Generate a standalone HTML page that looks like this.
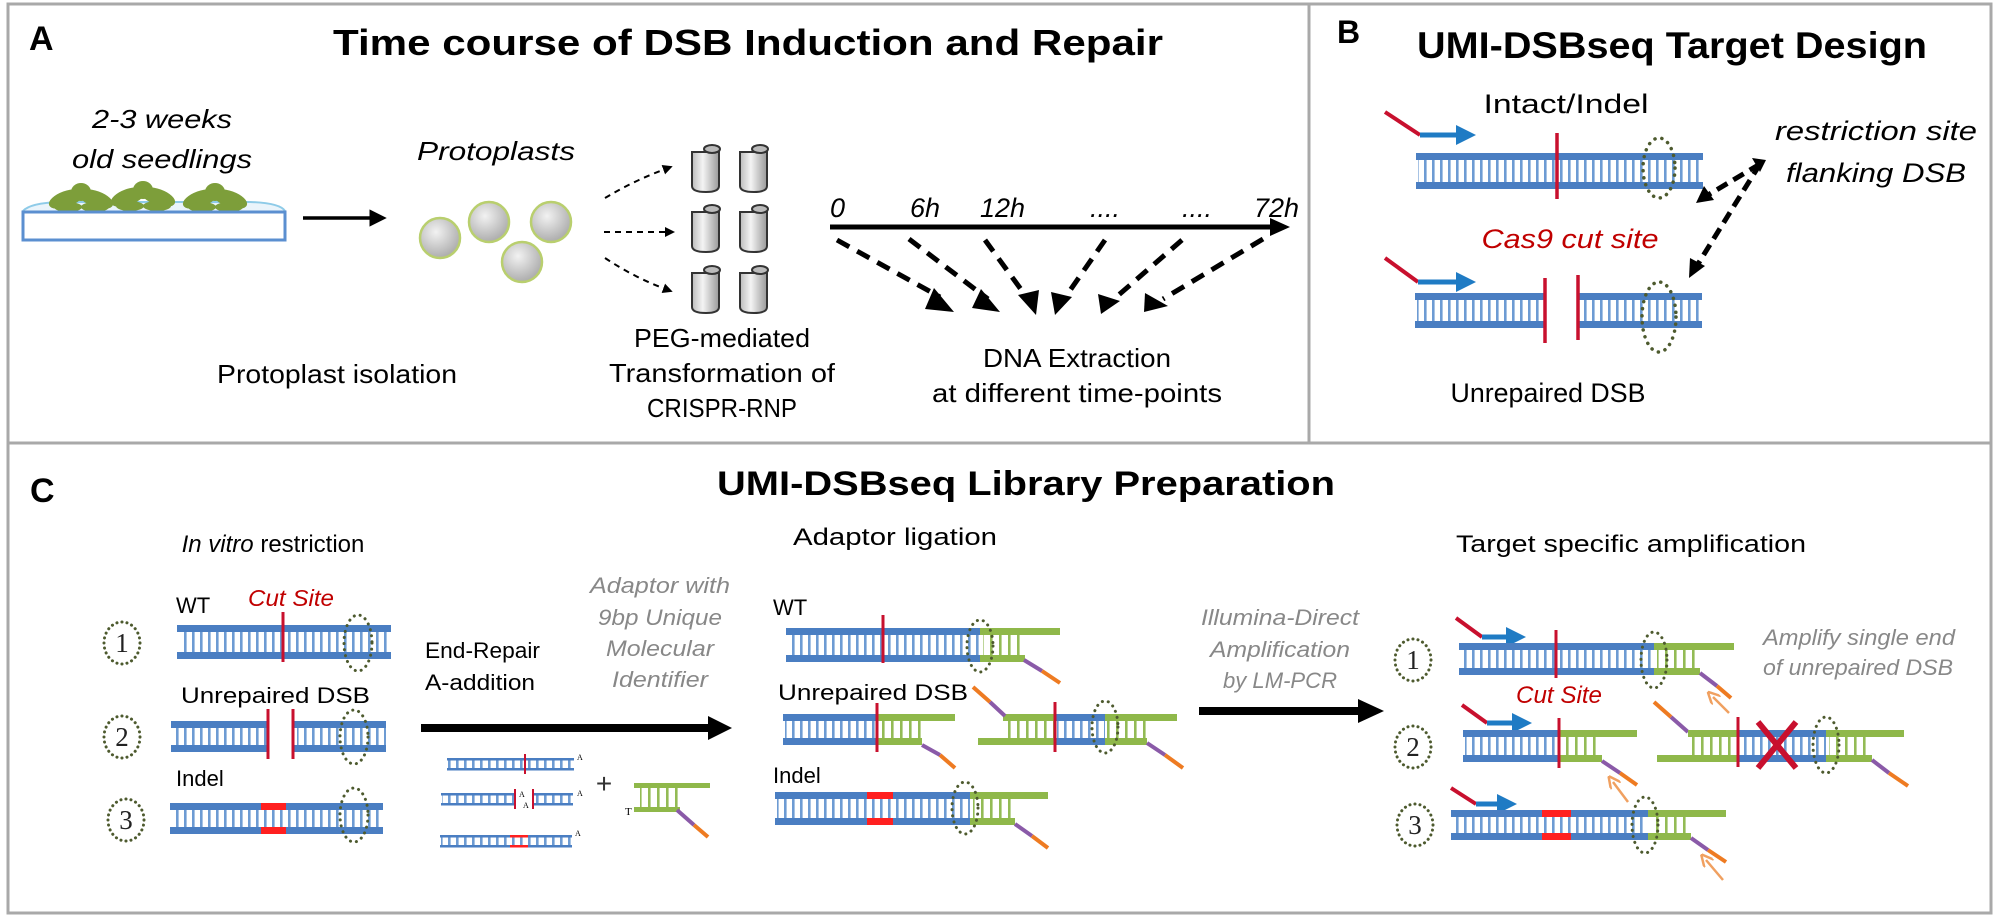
<!DOCTYPE html>
<html><head><meta charset="utf-8"><style>
html,body{margin:0;padding:0;background:#fff;}
svg{display:block;}
text{font-family:"Liberation Sans",sans-serif;}
text.serif,.serif text{font-family:"Liberation Serif",serif;}
</style></head><body>
<svg width="2000" height="919" viewBox="0 0 2000 919" xmlns="http://www.w3.org/2000/svg">
<defs>
<pattern id="rb" patternUnits="userSpaceOnUse" width="8" height="10"><rect width="8" height="10" fill="#fff"/><rect x="0" width="2.6" height="10" fill="#6d9bd3"/></pattern>
<pattern id="rg" patternUnits="userSpaceOnUse" width="9" height="10"><rect width="9" height="10" fill="#fff"/><rect x="0" width="2.6" height="10" fill="#93bb55"/></pattern>
<marker id="ahs" markerWidth="5" markerHeight="5" refX="2.5" refY="2.5" orient="auto" markerUnits="strokeWidth"><path d="M0,0 L5,2.5 L0,5 z" fill="#000"/></marker>
<marker id="ahb" markerWidth="4" markerHeight="4" refX="2" refY="2" orient="auto" markerUnits="strokeWidth"><path d="M0,0 L4,2 L0,4 z" fill="#1f7bc4"/></marker>
<marker id="aho" markerWidth="5" markerHeight="5" refX="2" refY="2.5" orient="auto" markerUnits="strokeWidth"><path d="M0,0 L5,2.5 L0,5" fill="none" stroke="#f0a060" stroke-width="1"/></marker>
<radialGradient id="pg" cx="40%" cy="35%" r="70%"><stop offset="0" stop-color="#f2f2f2"/><stop offset="1" stop-color="#a8a8a8"/></radialGradient>
<linearGradient id="tg" x1="0" x2="1"><stop offset="0" stop-color="#bbb"/><stop offset="0.4" stop-color="#f4f4f4"/><stop offset="1" stop-color="#999"/></linearGradient>
</defs>

<rect x="8" y="4" width="1983" height="909" fill="none" stroke="#a9a9a9" stroke-width="3"/>
<line x1="8" y1="443" x2="1991" y2="443" stroke="#a9a9a9" stroke-width="3"/>
<line x1="1309" y1="4" x2="1309" y2="443" stroke="#a9a9a9" stroke-width="3"/>

<!-- ===== Panel A ===== -->
<text x="29" y="50" font-size="34" font-weight="bold">A</text>
<text x="333" y="55" font-size="36" font-weight="bold" textLength="830" lengthAdjust="spacingAndGlyphs">Time course of DSB Induction and Repair</text>

<text x="162" y="128" font-size="26" font-style="italic" text-anchor="middle" textLength="140" lengthAdjust="spacingAndGlyphs">2-3 weeks</text>
<text x="162" y="168" font-size="26" font-style="italic" text-anchor="middle" textLength="180" lengthAdjust="spacingAndGlyphs">old seedlings</text>
<path d="M23,211 Q30,203 60,202 L250,202 Q280,203 285,211" fill="#eaf4fb" stroke="#8ecbe8" stroke-width="2"/>
<g fill="#7d9e3a">
<ellipse cx="66" cy="199" rx="18" ry="8" transform="rotate(-20 66 199)"/><ellipse cx="96" cy="199" rx="18" ry="8" transform="rotate(20 96 199)"/><ellipse cx="81" cy="192" rx="10" ry="9"/><ellipse cx="68" cy="207" rx="14" ry="5"/><ellipse cx="95" cy="207" rx="14" ry="5"/>
<ellipse cx="128" cy="197" rx="18" ry="8" transform="rotate(-20 128 197)"/><ellipse cx="158" cy="197" rx="18" ry="8" transform="rotate(20 158 197)"/><ellipse cx="143" cy="190" rx="10" ry="9"/><ellipse cx="130" cy="206" rx="14" ry="5"/><ellipse cx="157" cy="206" rx="14" ry="5"/>
<ellipse cx="200" cy="199" rx="18" ry="8" transform="rotate(-20 200 199)"/><ellipse cx="230" cy="199" rx="18" ry="8" transform="rotate(20 230 199)"/><ellipse cx="215" cy="192" rx="10" ry="9"/><ellipse cx="202" cy="207" rx="14" ry="5"/><ellipse cx="229" cy="207" rx="14" ry="5"/>
</g>
<rect x="23" y="212" width="262" height="28" fill="#fff" stroke="#5b8fd0" stroke-width="3"/>
<line x1="303" y1="218" x2="378" y2="218" stroke="#000" stroke-width="3.5" marker-end="url(#ahs)"/>

<text x="496" y="160" font-size="26" font-style="italic" text-anchor="middle" textLength="158" lengthAdjust="spacingAndGlyphs">Protoplasts</text>
<g fill="url(#pg)" stroke="#b9cf6e" stroke-width="2.5">
<circle cx="440" cy="238" r="20"/><circle cx="489" cy="222" r="20"/><circle cx="551" cy="222" r="20"/><circle cx="522" cy="262" r="20"/>
</g>
<text x="337" y="383" font-size="26" text-anchor="middle" textLength="240" lengthAdjust="spacingAndGlyphs">Protoplast isolation</text>

<g stroke="#000" stroke-width="2" stroke-dasharray="6 5" fill="none">
<path d="M605,198 Q635,180 668,168" marker-end="url(#ahs)"/>
<path d="M604,232 L670,232" marker-end="url(#ahs)"/>
<path d="M605,258 Q635,278 668,290" marker-end="url(#ahs)"/>
</g>
<g stroke="#333" stroke-width="2">
<g id="tube"><path d="M692,152 L692,186 Q692,192 706,192 Q719,192 719,186 L719,152 Z" fill="url(#tg)"/><ellipse cx="712" cy="149" rx="8" ry="4" fill="#bbb"/></g>
<use href="#tube" x="48" y="0"/>
<use href="#tube" x="0" y="60"/><use href="#tube" x="48" y="60"/>
<use href="#tube" x="0" y="121"/><use href="#tube" x="48" y="121"/>
</g>
<text x="722" y="347" font-size="26" text-anchor="middle" textLength="176" lengthAdjust="spacingAndGlyphs">PEG-mediated</text>
<text x="722" y="382" font-size="26" text-anchor="middle" textLength="226" lengthAdjust="spacingAndGlyphs">Transformation of</text>
<text x="722" y="417" font-size="26" text-anchor="middle" textLength="150" lengthAdjust="spacingAndGlyphs">CRISPR-RNP</text>

<line x1="830" y1="227" x2="1275" y2="227" stroke="#000" stroke-width="5"/>
<path d="M1270,218 L1290,227 L1270,236 Z" fill="#000"/>
<g font-size="27" font-style="italic">
<text x="830" y="217">0</text><text x="910" y="217">6h</text><text x="980" y="217">12h</text>
<text x="1090" y="217">....</text><text x="1182" y="217">....</text><text x="1254" y="217">72h</text>
</g>
<g stroke="#000" stroke-width="5" stroke-dasharray="14 9" fill="none">
<line x1="837" y1="240" x2="940" y2="297"/>
<line x1="909" y1="239" x2="988" y2="299"/>
<line x1="985" y1="240" x2="1028" y2="299"/>
<line x1="1105" y1="240" x2="1064" y2="299"/>
<line x1="1182" y1="240" x2="1114" y2="299"/>
<line x1="1263" y1="239" x2="1163" y2="299"/>
</g>
<g fill="#000">
<path d="M934,288 L954,312 L925,309 Z"/><path d="M981,289 L1000,312 L972,308 Z"/>
<path d="M1018,295 L1036,315 L1039,290 Z"/><path d="M1051,292 L1055,315 L1072,297 Z"/>
<path d="M1098,294 L1101,314 L1120,301 Z"/><path d="M1145,293 L1144,312 L1168,306 Z"/>
</g>
<text x="1077" y="367" font-size="26" text-anchor="middle" textLength="188" lengthAdjust="spacingAndGlyphs">DNA Extraction</text>
<text x="1077" y="402" font-size="26" text-anchor="middle" textLength="290" lengthAdjust="spacingAndGlyphs">at different time-points</text>

<!-- ===== Panel B ===== -->
<text x="1337" y="43" font-size="32" font-weight="bold">B</text>
<text x="1417" y="58" font-size="37" font-weight="bold" textLength="510" lengthAdjust="spacingAndGlyphs">UMI-DSBseq Target Design</text>
<text x="1566" y="113" font-size="27" text-anchor="middle" textLength="165" lengthAdjust="spacingAndGlyphs">Intact/Indel</text>
<rect x="1416" y="153" width="287" height="7" fill="#4a7ec2"/><rect x="1416" y="182" width="287" height="7" fill="#4a7ec2"/><rect x="1418" y="160" width="285" height="22" fill="url(#rb)"/>
<line x1="1557" y1="133" x2="1557" y2="199" stroke="#c8102e" stroke-width="3.5"/>
<line x1="1385" y1="112" x2="1420" y2="135" stroke="#c8102e" stroke-width="4"/>
<line x1="1420" y1="135" x2="1466" y2="135" stroke="#1f7bc4" stroke-width="5" marker-end="url(#ahb)"/>
<ellipse cx="1659" cy="168" rx="16" ry="30" fill="none" stroke="#4d5a2e" stroke-width="3.5" stroke-dasharray="0.1 7" stroke-linecap="round"/>
<text x="1570" y="248" font-size="27" font-style="italic" fill="#c00000" text-anchor="middle" textLength="177" lengthAdjust="spacingAndGlyphs">Cas9 cut site</text>
<rect x="1415" y="293" width="130" height="7" fill="#4a7ec2"/><rect x="1415" y="321" width="130" height="7" fill="#4a7ec2"/><rect x="1417" y="300" width="128" height="21" fill="url(#rb)"/>
<rect x="1578" y="293" width="124" height="7" fill="#4a7ec2"/><rect x="1578" y="321" width="124" height="7" fill="#4a7ec2"/><rect x="1582" y="300" width="120" height="21" fill="url(#rb)"/>
<line x1="1545" y1="278" x2="1545" y2="343" stroke="#c8102e" stroke-width="3.5"/>
<line x1="1578" y1="275" x2="1578" y2="340" stroke="#c8102e" stroke-width="3.5"/>
<line x1="1385" y1="258" x2="1418" y2="282" stroke="#c8102e" stroke-width="4"/>
<line x1="1418" y1="282" x2="1466" y2="282" stroke="#1f7bc4" stroke-width="5" marker-end="url(#ahb)"/>
<ellipse cx="1659" cy="317" rx="17" ry="35" fill="none" stroke="#4d5a2e" stroke-width="3.5" stroke-dasharray="0.1 7" stroke-linecap="round"/>
<text x="1876" y="140" font-size="27" font-style="italic" text-anchor="middle" textLength="202" lengthAdjust="spacingAndGlyphs">restriction site</text>
<text x="1876" y="182" font-size="27" font-style="italic" text-anchor="middle" textLength="180" lengthAdjust="spacingAndGlyphs">flanking DSB</text>
<g stroke="#000" stroke-width="5" stroke-dasharray="12 7" fill="none">
<line x1="1760" y1="164" x2="1708" y2="195"/>
<line x1="1760" y1="164" x2="1698" y2="264"/>
</g>
<path d="M1696,203 L1704,186 L1714,200 Z" fill="#000"/>
<path d="M1689,278 L1690,258 L1705,266 Z" fill="#000"/>
<path d="M1752,158 L1766,160 L1760,172 Z" fill="#000"/>
<text x="1548" y="402" font-size="27" text-anchor="middle" textLength="195" lengthAdjust="spacingAndGlyphs">Unrepaired DSB</text>

<!-- ===== Panel C ===== -->
<text x="30" y="502" font-size="34" font-weight="bold">C</text>
<text x="717" y="495" font-size="34" font-weight="bold" textLength="618" lengthAdjust="spacingAndGlyphs">UMI-DSBseq Library Preparation</text>
<text x="273" y="552" font-size="24" text-anchor="middle"><tspan font-style="italic">In vitro</tspan> restriction</text>
<text x="895" y="545" font-size="24" text-anchor="middle" textLength="204" lengthAdjust="spacingAndGlyphs">Adaptor ligation</text>
<text x="1631" y="552" font-size="24" text-anchor="middle" textLength="350" lengthAdjust="spacingAndGlyphs">Target specific amplification</text>

<g fill="none" stroke="#4d5a2e" stroke-width="3" stroke-dasharray="0.1 5" stroke-linecap="round">
<ellipse cx="122" cy="643" rx="18" ry="21"/><ellipse cx="122" cy="737" rx="18" ry="21"/><ellipse cx="126" cy="820" rx="18" ry="21"/>
<ellipse cx="1413" cy="660" rx="18" ry="21"/><ellipse cx="1413" cy="747" rx="18" ry="21"/><ellipse cx="1415" cy="825" rx="18" ry="21"/>
</g>
<g class="serif" font-size="27" text-anchor="middle" fill="#222">
<text x="122" y="652">1</text><text x="122" y="746">2</text><text x="126" y="829">3</text>
<text x="1413" y="669">1</text><text x="1413" y="756">2</text><text x="1415" y="834">3</text>
</g>

<text x="176" y="613" font-size="22">WT</text>
<text x="291" y="606" font-size="23" font-style="italic" fill="#c00000" text-anchor="middle" textLength="86" lengthAdjust="spacingAndGlyphs">Cut Site</text>
<rect x="177" y="625" width="214" height="7" fill="#4a7ec2"/><rect x="177" y="652" width="214" height="7" fill="#4a7ec2"/><rect x="179" y="632" width="212" height="20" fill="url(#rb)"/>
<line x1="283" y1="612" x2="283" y2="662" stroke="#c8102e" stroke-width="3"/>
<ellipse cx="358" cy="643" rx="14" ry="28" fill="none" stroke="#4d5a2e" stroke-width="3" stroke-dasharray="0.1 6" stroke-linecap="round"/>
<text x="181" y="703" font-size="22" textLength="189" lengthAdjust="spacingAndGlyphs">Unrepaired DSB</text>
<rect x="171" y="721" width="97" height="7" fill="#4a7ec2"/><rect x="171" y="745" width="97" height="7" fill="#4a7ec2"/><rect x="173" y="728" width="95" height="17" fill="url(#rb)"/>
<rect x="293" y="721" width="93" height="7" fill="#4a7ec2"/><rect x="293" y="745" width="93" height="7" fill="#4a7ec2"/><rect x="297" y="728" width="89" height="17" fill="url(#rb)"/>
<line x1="268" y1="709" x2="268" y2="759" stroke="#c8102e" stroke-width="3"/><line x1="293" y1="709" x2="293" y2="759" stroke="#c8102e" stroke-width="3"/>
<ellipse cx="354" cy="737" rx="14" ry="27" fill="none" stroke="#4d5a2e" stroke-width="3" stroke-dasharray="0.1 6" stroke-linecap="round"/>
<text x="176" y="786" font-size="22">Indel</text>
<rect x="170" y="803" width="213" height="7" fill="#4a7ec2"/><rect x="170" y="827" width="213" height="7" fill="#4a7ec2"/><rect x="172" y="810" width="211" height="17" fill="url(#rb)"/>
<rect x="261" y="803" width="25" height="7" fill="#ff2020"/><rect x="261" y="827" width="25" height="7" fill="#ff2020"/>
<ellipse cx="354" cy="815" rx="14" ry="27" fill="none" stroke="#4d5a2e" stroke-width="3" stroke-dasharray="0.1 6" stroke-linecap="round"/>

<text x="425" y="658" font-size="22" textLength="115" lengthAdjust="spacingAndGlyphs">End-Repair</text>
<text x="425" y="690" font-size="22" textLength="110" lengthAdjust="spacingAndGlyphs">A-addition</text>
<g font-size="22" font-style="italic" fill="#888" text-anchor="middle">
<text x="660" y="593" textLength="140" lengthAdjust="spacingAndGlyphs">Adaptor with</text>
<text x="660" y="625" textLength="124" lengthAdjust="spacingAndGlyphs">9bp Unique</text>
<text x="660" y="656" textLength="108" lengthAdjust="spacingAndGlyphs">Molecular</text>
<text x="660" y="687" textLength="96" lengthAdjust="spacingAndGlyphs">Identifier</text>
</g>
<line x1="421" y1="728" x2="712" y2="728" stroke="#000" stroke-width="8"/>
<path d="M708,716 L732,728 L708,740 Z" fill="#000"/>
<rect x="447" y="758" width="127" height="2.5" fill="#4a7ec2"/><rect x="447" y="768" width="127" height="2.5" fill="#4a7ec2"/><rect x="448" y="760.5" width="126" height="7.5" fill="url(#rb)"/>
<line x1="525" y1="754" x2="525" y2="774" stroke="#c8102e" stroke-width="2"/>
<rect x="441" y="793" width="132" height="2.5" fill="#4a7ec2"/><rect x="441" y="803" width="132" height="2.5" fill="#4a7ec2"/><rect x="442" y="795.5" width="131" height="7.5" fill="url(#rb)"/>
<rect x="516" y="790" width="16" height="20" fill="#fff"/>
<line x1="515" y1="789" x2="515" y2="809" stroke="#c8102e" stroke-width="2"/><line x1="533" y1="789" x2="533" y2="809" stroke="#c8102e" stroke-width="2"/>
<rect x="440" y="835" width="132" height="2.5" fill="#4a7ec2"/><rect x="440" y="845" width="132" height="2.5" fill="#4a7ec2"/><rect x="441" y="837.5" width="131" height="7.5" fill="url(#rb)"/>
<rect x="510" y="835" width="18" height="2.5" fill="#ff2020"/><rect x="510" y="845" width="18" height="2.5" fill="#ff2020"/>
<g class="serif" font-size="8"><text x="577" y="760">A</text><text x="577" y="796">A</text><text x="575" y="836">A</text><text x="519" y="797">A</text><text x="523" y="808">A</text></g>
<text x="604" y="793" font-size="28" text-anchor="middle" fill="#333">+</text>
<rect x="634" y="783" width="76" height="5" fill="#8fb84a"/><rect x="634" y="807" width="46" height="5" fill="#8fb84a"/><rect x="640" y="788" width="38" height="19" fill="url(#rg)"/>
<text class="serif" x="625" y="815" font-size="11">T</text>
<line x1="677" y1="810" x2="694" y2="825" stroke="#8a5aa8" stroke-width="4"/><line x1="694" y1="825" x2="708" y2="837" stroke="#ee7b22" stroke-width="4"/>

<text x="773" y="615" font-size="22">WT</text>
<rect x="786" y="628" width="194" height="7" fill="#4a7ec2"/><rect x="786" y="655" width="194" height="7" fill="#4a7ec2"/><rect x="788" y="635" width="192" height="20" fill="url(#rb)"/>
<rect x="980" y="628" width="80" height="7" fill="#8fb84a"/><rect x="980" y="655" width="45" height="7" fill="#8fb84a"/><rect x="983" y="635" width="42" height="20" fill="url(#rg)"/>
<line x1="883" y1="615" x2="883" y2="663" stroke="#c8102e" stroke-width="3"/>
<line x1="1024" y1="660" x2="1042" y2="671" stroke="#8a5aa8" stroke-width="4"/><line x1="1042" y1="671" x2="1060" y2="683" stroke="#ee7b22" stroke-width="4"/>
<ellipse cx="980" cy="646" rx="13" ry="26" fill="none" stroke="#4d5a2e" stroke-width="3" stroke-dasharray="0.1 6" stroke-linecap="round"/>
<text x="778" y="700" font-size="22" textLength="190" lengthAdjust="spacingAndGlyphs">Unrepaired DSB</text>
<rect x="783" y="714" width="94" height="7" fill="#4a7ec2"/><rect x="783" y="738" width="94" height="7" fill="#4a7ec2"/><rect x="785" y="721" width="92" height="17" fill="url(#rb)"/>
<rect x="877" y="714" width="78" height="7" fill="#8fb84a"/><rect x="877" y="738" width="45" height="7" fill="#8fb84a"/><rect x="880" y="721" width="42" height="17" fill="url(#rg)"/>
<line x1="877" y1="703" x2="877" y2="752" stroke="#c8102e" stroke-width="3"/>
<line x1="922" y1="745" x2="940" y2="755" stroke="#8a5aa8" stroke-width="4"/><line x1="940" y1="755" x2="955" y2="768" stroke="#ee7b22" stroke-width="4"/>
<rect x="978" y="738" width="77" height="7" fill="#8fb84a"/><rect x="1003" y="714" width="52" height="7" fill="#8fb84a"/><rect x="1006" y="721" width="49" height="17" fill="url(#rg)"/>
<rect x="1055" y="714" width="50" height="7" fill="#4a7ec2"/><rect x="1055" y="738" width="50" height="7" fill="#4a7ec2"/><rect x="1057" y="721" width="48" height="17" fill="url(#rb)"/>
<rect x="1105" y="714" width="72" height="7" fill="#8fb84a"/><rect x="1105" y="738" width="42" height="7" fill="#8fb84a"/><rect x="1107" y="721" width="40" height="17" fill="url(#rg)"/>
<line x1="1055" y1="702" x2="1055" y2="752" stroke="#c8102e" stroke-width="3"/>
<line x1="973" y1="687" x2="990" y2="702" stroke="#ee7b22" stroke-width="4"/><line x1="990" y1="702" x2="1005" y2="716" stroke="#8a5aa8" stroke-width="4"/>
<line x1="1147" y1="743" x2="1165" y2="755" stroke="#8a5aa8" stroke-width="4"/><line x1="1165" y1="755" x2="1183" y2="768" stroke="#ee7b22" stroke-width="4"/>
<ellipse cx="1105" cy="727" rx="13" ry="26" fill="none" stroke="#4d5a2e" stroke-width="3" stroke-dasharray="0.1 6" stroke-linecap="round"/>
<text x="773" y="783" font-size="22">Indel</text>
<rect x="775" y="792" width="195" height="7" fill="#4a7ec2"/><rect x="775" y="818" width="195" height="7" fill="#4a7ec2"/><rect x="777" y="799" width="193" height="19" fill="url(#rb)"/>
<rect x="867" y="792" width="26" height="7" fill="#ff2020"/><rect x="867" y="818" width="26" height="7" fill="#ff2020"/>
<rect x="970" y="792" width="78" height="7" fill="#8fb84a"/><rect x="970" y="818" width="45" height="7" fill="#8fb84a"/><rect x="973" y="799" width="42" height="19" fill="url(#rg)"/>
<line x1="1015" y1="824" x2="1032" y2="836" stroke="#8a5aa8" stroke-width="4"/><line x1="1032" y1="836" x2="1048" y2="848" stroke="#ee7b22" stroke-width="4"/>
<ellipse cx="965" cy="808" rx="13" ry="26" fill="none" stroke="#4d5a2e" stroke-width="3" stroke-dasharray="0.1 6" stroke-linecap="round"/>

<g font-size="22" font-style="italic" fill="#888" text-anchor="middle">
<text x="1280" y="625" textLength="158" lengthAdjust="spacingAndGlyphs">Illumina-Direct</text>
<text x="1280" y="657" textLength="140" lengthAdjust="spacingAndGlyphs">Amplification</text>
<text x="1280" y="688" textLength="114" lengthAdjust="spacingAndGlyphs">by LM-PCR</text>
</g>
<line x1="1199" y1="711" x2="1362" y2="711" stroke="#000" stroke-width="8"/>
<path d="M1358,699 L1384,711 L1358,723 Z" fill="#000"/>

<line x1="1456" y1="618" x2="1482" y2="637" stroke="#c8102e" stroke-width="4"/>
<line x1="1482" y1="637" x2="1516" y2="637" stroke="#1f7bc4" stroke-width="5" marker-end="url(#ahb)"/>
<rect x="1459" y="643" width="195" height="7" fill="#4a7ec2"/><rect x="1459" y="668" width="195" height="7" fill="#4a7ec2"/><rect x="1461" y="650" width="193" height="18" fill="url(#rb)"/>
<rect x="1654" y="643" width="80" height="7" fill="#8fb84a"/><rect x="1654" y="668" width="46" height="7" fill="#8fb84a"/><rect x="1657" y="650" width="43" height="18" fill="url(#rg)"/>
<line x1="1556" y1="630" x2="1556" y2="678" stroke="#c8102e" stroke-width="3"/>
<line x1="1700" y1="673" x2="1717" y2="686" stroke="#8a5aa8" stroke-width="4"/><line x1="1717" y1="686" x2="1731" y2="698" stroke="#ee7b22" stroke-width="4"/>
<ellipse cx="1654" cy="660" rx="13" ry="28" fill="none" stroke="#4d5a2e" stroke-width="3" stroke-dasharray="0.1 6" stroke-linecap="round"/>
<line x1="1729" y1="713" x2="1713" y2="697" stroke="#f0a060" stroke-width="2.5" marker-end="url(#aho)"/>
<g font-size="22" font-style="italic" fill="#888">
<text x="1763" y="645" textLength="192" lengthAdjust="spacingAndGlyphs">Amplify single end</text>
<text x="1763" y="675" textLength="190" lengthAdjust="spacingAndGlyphs">of unrepaired DSB</text>
</g>
<text x="1559" y="703" font-size="24" font-style="italic" fill="#c00000" text-anchor="middle" textLength="86" lengthAdjust="spacingAndGlyphs">Cut Site</text>

<line x1="1462" y1="705" x2="1487" y2="723" stroke="#c8102e" stroke-width="4"/>
<line x1="1487" y1="723" x2="1522" y2="723" stroke="#1f7bc4" stroke-width="5" marker-end="url(#ahb)"/>
<rect x="1463" y="730" width="96" height="7" fill="#4a7ec2"/><rect x="1463" y="755" width="96" height="7" fill="#4a7ec2"/><rect x="1465" y="737" width="94" height="18" fill="url(#rb)"/>
<rect x="1559" y="730" width="78" height="7" fill="#8fb84a"/><rect x="1559" y="755" width="43" height="7" fill="#8fb84a"/><rect x="1562" y="737" width="40" height="18" fill="url(#rg)"/>
<line x1="1559" y1="718" x2="1559" y2="768" stroke="#c8102e" stroke-width="3"/>
<line x1="1602" y1="761" x2="1620" y2="773" stroke="#8a5aa8" stroke-width="4"/><line x1="1620" y1="773" x2="1637" y2="785" stroke="#ee7b22" stroke-width="4"/>
<line x1="1628" y1="802" x2="1613" y2="782" stroke="#f0a060" stroke-width="2.5" marker-end="url(#aho)"/>
<line x1="1654" y1="702" x2="1671" y2="717" stroke="#ee7b22" stroke-width="4"/><line x1="1671" y1="717" x2="1688" y2="732" stroke="#8a5aa8" stroke-width="4"/>
<rect x="1688" y="730" width="50" height="7" fill="#8fb84a"/><rect x="1657" y="755" width="81" height="7" fill="#8fb84a"/><rect x="1691" y="737" width="47" height="18" fill="url(#rg)"/>
<rect x="1738" y="730" width="88" height="7" fill="#4a7ec2"/><rect x="1738" y="755" width="88" height="7" fill="#4a7ec2"/><rect x="1740" y="737" width="86" height="18" fill="url(#rb)"/>
<rect x="1826" y="730" width="78" height="7" fill="#8fb84a"/><rect x="1826" y="755" width="46" height="7" fill="#8fb84a"/><rect x="1829" y="737" width="43" height="18" fill="url(#rg)"/>
<line x1="1738" y1="717" x2="1738" y2="767" stroke="#c8102e" stroke-width="3"/>
<line x1="1872" y1="760" x2="1889" y2="773" stroke="#8a5aa8" stroke-width="4"/><line x1="1889" y1="773" x2="1908" y2="786" stroke="#ee7b22" stroke-width="4"/>
<g stroke="#c8102e" stroke-width="6"><line x1="1758" y1="722" x2="1796" y2="768"/><line x1="1796" y1="722" x2="1758" y2="768"/></g>
<ellipse cx="1826" cy="745" rx="13" ry="28" fill="none" stroke="#4d5a2e" stroke-width="3" stroke-dasharray="0.1 6" stroke-linecap="round"/>

<line x1="1451" y1="788" x2="1476" y2="804" stroke="#c8102e" stroke-width="4"/>
<line x1="1476" y1="804" x2="1507" y2="804" stroke="#1f7bc4" stroke-width="5" marker-end="url(#ahb)"/>
<rect x="1451" y="810" width="197" height="7" fill="#4a7ec2"/><rect x="1451" y="833" width="197" height="7" fill="#4a7ec2"/><rect x="1453" y="817" width="195" height="16" fill="url(#rb)"/>
<rect x="1542" y="810" width="29" height="7" fill="#ff2020"/><rect x="1542" y="833" width="29" height="7" fill="#ff2020"/>
<rect x="1648" y="810" width="78" height="7" fill="#8fb84a"/><rect x="1648" y="833" width="43" height="7" fill="#8fb84a"/><rect x="1651" y="817" width="40" height="16" fill="url(#rg)"/>
<line x1="1691" y1="838" x2="1708" y2="850" stroke="#8a5aa8" stroke-width="4"/><line x1="1708" y1="850" x2="1726" y2="862" stroke="#ee7b22" stroke-width="4"/>
<ellipse cx="1645" cy="825" rx="13" ry="28" fill="none" stroke="#4d5a2e" stroke-width="3" stroke-dasharray="0.1 6" stroke-linecap="round"/>
<line x1="1723" y1="880" x2="1706" y2="860" stroke="#f0a060" stroke-width="2.5" marker-end="url(#aho)"/>
</svg>
</body></html>
